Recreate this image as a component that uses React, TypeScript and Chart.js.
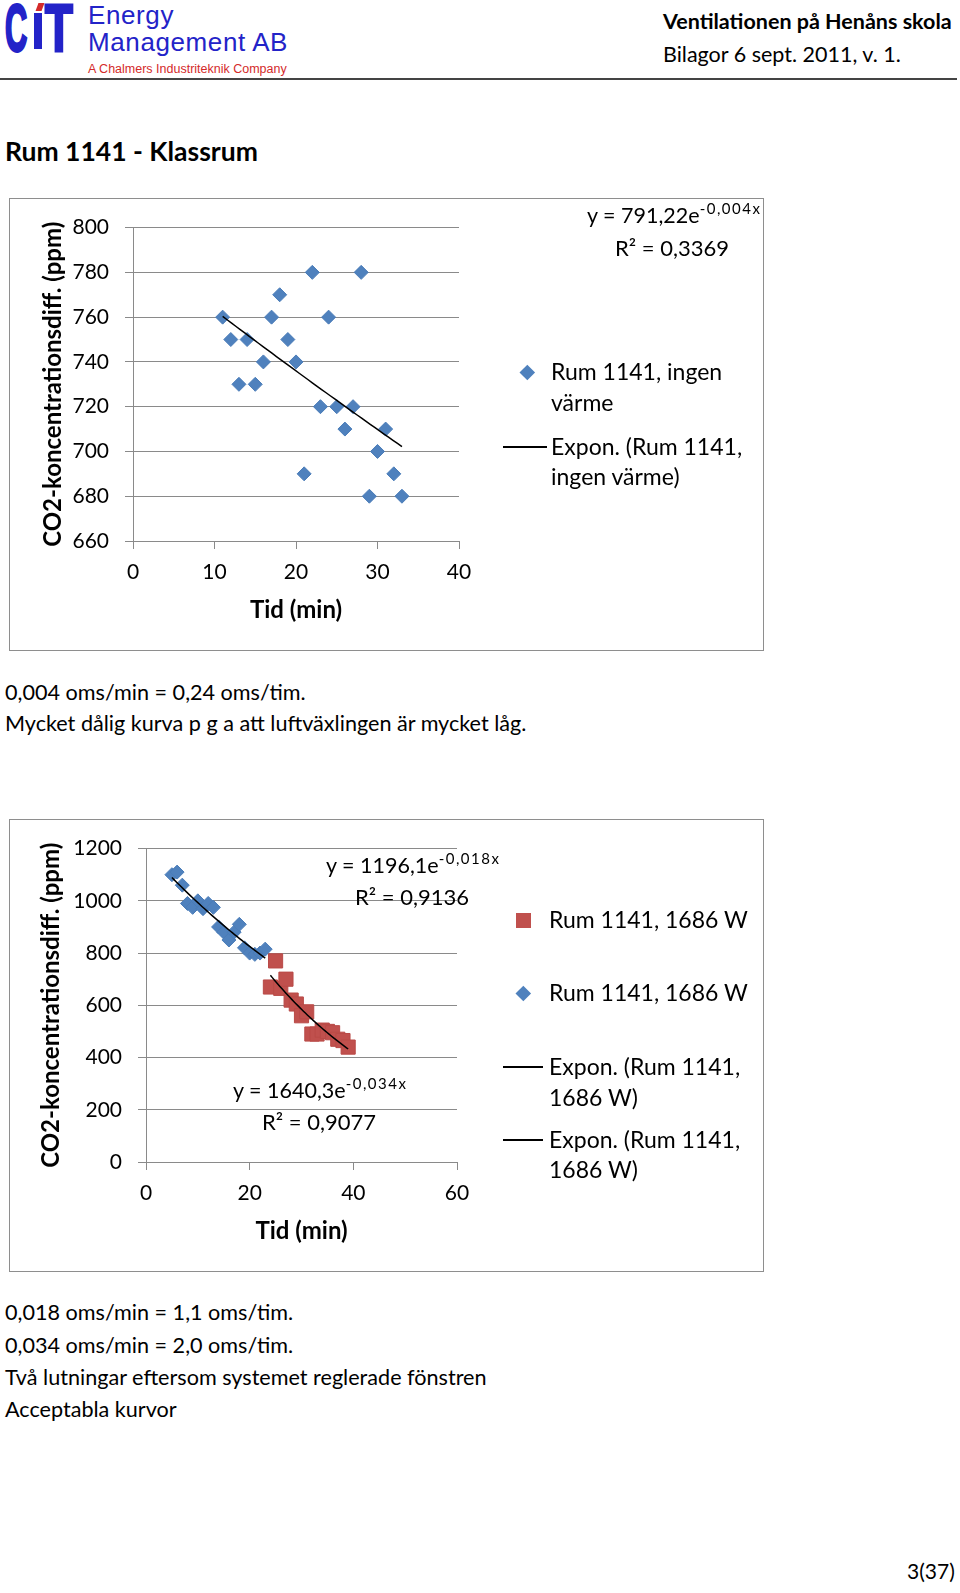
import React, { useEffect, useRef } from "react";
import { Chart, registerables } from "chart.js";

Chart.register(...registerables);

// ---------- Data ----------
// Chart 1: Rum 1141, ingen värme
const c1Minutes = [11, 12, 13, 14, 15, 16, 17, 18, 19, 20, 21, 22, 23, 24, 25, 26, 27, 28, 29, 30, 31, 32, 33];
const c1Co2 = [760, 750, 730, 750, 730, 740, 760, 770, 750, 740, 690, 780, 720, 760, 720, 710, 720, 780, 680, 700, 710, 690, 680];
const c1XTicks = [0, 10, 20, 30, 40];
const c1YTicks = [660, 680, 700, 720, 740, 760, 780, 800];

// Chart 2: Rum 1141, 1686 W (two periods)
const c2BlueMinutes = [5, 6, 7, 8, 9, 10, 11, 12, 13, 14, 15, 16, 17, 18, 19, 20, 21, 22, 23];
const c2BlueCo2 = [1100, 1110, 1060, 990, 975, 1000, 970, 990, 975, 900, 880, 850, 880, 910, 820, 800, 795, 800, 815];
const c2RedMinutes = [24, 25, 26, 27, 28, 29, 30, 31, 32, 33, 34, 35, 36, 37, 38, 39];
const c2RedCo2 = [670, 770, 665, 700, 620, 605, 560, 575, 490, 490, 505, 500, 495, 470, 465, 440];
const c2XTicks = [0, 20, 40, 60];
const c2YTicks = [0, 200, 400, 600, 800, 1000, 1200];

const BLUE = "#4F81BD";
const RED = "#C0504D";
const GRID = "#8a8a8a";
const FONT = "Lato, 'Open Sans', sans-serif";
const ARIAL = "'Liberation Sans', Arial, sans-serif";

// Exponential least-squares fit (like Excel's "Expon." trendline)
function expTrend(xs: number[], ys: number[]) {
  const n = xs.length;
  let sx = 0, sy = 0, sxx = 0, sxy = 0;
  for (let i = 0; i < n; i++) {
    const ly = Math.log(ys[i]);
    sx += xs[i]; sy += ly; sxx += xs[i] * xs[i]; sxy += xs[i] * ly;
  }
  const b = (n * sxy - sx * sy) / (n * sxx - sx * sx);
  const a = Math.exp((sy - b * sx) / n);
  const x0 = Math.min(...xs), x1 = Math.max(...xs);
  const pts: { x: number; y: number }[] = [];
  const steps = 40;
  for (let i = 0; i <= steps; i++) {
    const x = x0 + ((x1 - x0) * i) / steps;
    pts.push({ x, y: a * Math.exp(b * x) });
  }
  return pts;
}

const toPts = (xs: number[], ys: number[]) => xs.map((x, i) => ({ x, y: ys[i] }));

function makeScales(opts: {
  xTicks: number[]; yTicks: number[]; yWidth: number; xHeight: number; yTitlePad: number;
}) {
  const { xTicks, yTicks, yWidth, xHeight, yTitlePad } = opts;
  return {
    x: {
      type: "linear",
      min: xTicks[0],
      max: xTicks[xTicks.length - 1],
      afterBuildTicks: (s: any) => { s.ticks = xTicks.map((v) => ({ value: v })); },
      afterFit: (s: any) => { s.height = xHeight; },
      grid: { drawOnChartArea: false, drawTicks: true, tickLength: 8, color: GRID, lineWidth: 1 },
      border: { display: true, color: GRID, width: 1 },
      ticks: {
        font: { family: FONT, size: 21 }, color: "#000", padding: 11, maxRotation: 0, autoSkip: false,
        callback: (v: any) => String(v),
      },
      title: {
        display: true, text: "Tid (min)", color: "#000",
        font: { family: FONT, size: 24, weight: "bold" }, padding: { top: 0, bottom: 25 },
      },
    },
    y: {
      type: "linear",
      min: yTicks[0],
      max: yTicks[yTicks.length - 1],
      afterBuildTicks: (s: any) => { s.ticks = yTicks.map((v) => ({ value: v })); },
      afterFit: (s: any) => { s.width = yWidth; },
      grid: { drawOnChartArea: true, drawTicks: true, tickLength: 8, color: GRID, lineWidth: 1 },
      border: { display: true, color: GRID, width: 1 },
      ticks: {
        font: { family: FONT, size: 21 }, color: "#000", padding: 16, autoSkip: false,
        callback: (v: any) => String(v),
      },
      title: {
        display: true, text: "CO2-koncentrationsdiff. (ppm)", color: "#000",
        font: { family: FONT, size: 24, weight: "bold" }, padding: { top: yTitlePad, bottom: 0 },
      },
    },
  };
}

function ChartCanvas({ config, left, top, width, height }: any) {
  const ref = useRef<HTMLCanvasElement>(null);
  useEffect(() => {
    if (!ref.current) return;
    const chart = new Chart(ref.current, config);
    let alive = true;
    (document as any).fonts?.ready?.then(() => { if (alive) chart.update(); });
    return () => { alive = false; chart.destroy(); };
  }, []);
  return (
    <canvas
      ref={ref}
      width={width}
      height={height}
      style={{ position: "absolute", left, top, width, height }}
    />
  );
}

const chart1Config = {
  type: "scatter",
  data: {
    datasets: [
      {
        label: "Expon. (Rum 1141, ingen värme)",
        data: expTrend(c1Minutes, c1Co2),
        showLine: true, pointRadius: 0, borderColor: "#000", borderWidth: 1.5, order: 0,
      },
      {
        label: "Rum 1141, ingen värme",
        data: toPts(c1Minutes, c1Co2),
        pointStyle: "rectRot", pointRadius: 7, backgroundColor: BLUE, borderColor: "#4a7cb8", borderWidth: 1, order: 1,
      },
    ],
  },
  options: {
    animation: false, responsive: false, maintainAspectRatio: false,
    layout: { padding: { left: 0, top: 24, right: 304, bottom: 0 } },
    plugins: { legend: { display: false }, tooltip: { enabled: false } },
    scales: makeScales({ xTicks: c1XTicks, yTicks: c1YTicks, yWidth: 123, xHeight: 109, yTitlePad: 29 }),
  },
};

const chart2Config = {
  type: "scatter",
  data: {
    datasets: [
      {
        label: "Expon. (Rum 1141, 1686 W)",
        data: expTrend(c2RedMinutes, c2RedCo2),
        showLine: true, pointRadius: 0, borderColor: "#000", borderWidth: 1.5, order: 0,
      },
      {
        label: "Expon. (Rum 1141, 1686 W)",
        data: expTrend(c2BlueMinutes, c2BlueCo2),
        showLine: true, pointRadius: 0, borderColor: "#000", borderWidth: 1.5, order: 0,
      },
      {
        label: "Rum 1141, 1686 W",
        data: toPts(c2RedMinutes, c2RedCo2),
        pointStyle: "rect", pointRadius: 10, backgroundColor: RED, borderColor: "#b94a47", borderWidth: 1, order: 1,
      },
      {
        label: "Rum 1141, 1686 W",
        data: toPts(c2BlueMinutes, c2BlueCo2),
        pointStyle: "rectRot", pointRadius: 7, backgroundColor: BLUE, borderColor: "#4a7cb8", borderWidth: 1, order: 1,
      },
    ],
  },
  options: {
    animation: false, responsive: false, maintainAspectRatio: false,
    layout: { padding: { left: 0, top: 24, right: 306, bottom: 0 } },
    plugins: { legend: { display: false }, tooltip: { enabled: false } },
    scales: makeScales({ xTicks: c2XTicks, yTicks: c2YTicks, yWidth: 136, xHeight: 109, yTitlePad: 27 }),
  },
};

// ---------- Text helpers ----------
function T({ x, y, s, b, c, f, ls, children }: any) {
  return (
    <div
      style={{
        position: "absolute", left: x, top: y - 0.63 * s, fontSize: s, lineHeight: `${1.2 * s}px`,
        fontWeight: b ? 700 : 400, color: c || "#000", fontFamily: f || FONT, whiteSpace: "nowrap",
        letterSpacing: ls || 0,
      }}
    >
      {children}
    </div>
  );
}

function Eq({ x, y, main, sup }: any) {
  return (
    <T x={x} y={y} s={21.5}>
      {main}
      <span style={{ fontSize: 15, letterSpacing: 1.5, position: "relative", top: -9 }}>{sup}</span>
    </T>
  );
}

function Diamond({ cx, cy, r }: any) {
  const side = r * Math.SQRT2;
  return (
    <div
      style={{
        position: "absolute", left: cx - side / 2, top: cy - side / 2, width: side, height: side,
        background: BLUE, transform: "rotate(45deg)",
      }}
    />
  );
}

function Square({ cx, cy, side }: any) {
  return <div style={{ position: "absolute", left: cx - side / 2, top: cy - side / 2, width: side, height: side, background: RED }} />;
}

function HLine({ x1, x2, y }: any) {
  return <div style={{ position: "absolute", left: x1, top: y - 0.75, width: x2 - x1, height: 1.5, background: "#000" }} />;
}

function Box({ left, top, right, bottom }: any) {
  return (
    <div
      style={{
        position: "absolute", left, top, width: right - left, height: bottom - top,
        border: "1px solid #8e8e8e", boxSizing: "border-box",
      }}
    />
  );
}

export default function App() {
  const LOGO_BLUE = "#2323c8";
  const logoLetter = (scale: number): React.CSSProperties => ({
    position: "absolute", top: -12, fontFamily: ARIAL, fontWeight: 700, fontSize: 67, lineHeight: "80px",
    color: LOGO_BLUE, transform: `scaleX(${scale})`, transformOrigin: "left top",
    WebkitTextStroke: `3px ${LOGO_BLUE}`,
  });
  return (
    <div
      style={{
        position: "absolute", left: 0, top: 0, width: 960, height: 1593, background: "#fff",
        overflow: "hidden", fontFamily: FONT,
      }}
    >
      {/* Logo */}
      <div style={{ ...logoLetter(0.46), left: 5 }}>C</div>
      <div style={{ position: "absolute", left: 34, top: 13, width: 8, height: 36, background: LOGO_BLUE }} />
      <div style={{ position: "absolute", left: 37, top: 3, width: 6, height: 8, background: "#d42a2a", transform: "skewX(-20deg)" }} />
      <div style={{ ...logoLetter(0.68), left: 45 }}>T</div>
      <T x={88} y={16} s={26} f={ARIAL} c={LOGO_BLUE} ls={0.6}>Energy</T>
      <T x={88} y={43} s={26} f={ARIAL} c={LOGO_BLUE} ls={0.6}>Management AB</T>
      <T x={88} y={70} s={12.5} f={ARIAL} c="#d42a2a">A Chalmers Industriteknik Company</T>

      <T x={663} y={23} s={21.5} b>Ventilationen på Henåns skola</T>
      <T x={663} y={56} s={21.5}>Bilagor 6 sept. 2011, v. 1.</T>
      <div style={{ position: "absolute", left: 0, top: 78, width: 957, height: 2, background: "#444" }} />

      <T x={5} y={153} s={26.5} b>Rum 1141 - Klassrum</T>

      {/* Chart 1 */}
      <Box left={9} top={198} right={764} bottom={651} />
      <ChartCanvas config={chart1Config} left={10} top={199} width={753} height={451} />
      <Eq x={587} y={217} main="y = 791,22e" sup="-0,004x" />
      <T x={615} y={249} s={22}>R² = 0,3369</T>
      <Diamond cx={527} cy={372} r={7.5} />
      <T x={551} y={372} s={23}>Rum 1141, ingen</T>
      <T x={551} y={403} s={23}>värme</T>
      <HLine x1={503} x2={547} y={447} />
      <T x={551} y={447} s={23}>Expon. (Rum 1141,</T>
      <T x={551} y={477} s={23}>ingen värme)</T>

      <T x={5} y={694} s={21.6}>0,004 oms/min = 0,24 oms/tim.</T>
      <T x={5} y={725} s={21.6}>Mycket dålig kurva p g a att luftväxlingen är mycket låg.</T>

      {/* Chart 2 */}
      <Box left={9} top={819} right={764} bottom={1272} />
      <ChartCanvas config={chart2Config} left={10} top={820} width={753} height={451} />
      <Eq x={326} y={867} main="y = 1196,1e" sup="-0,018x" />
      <T x={355} y={898} s={22}>R² = 0,9136</T>
      <Eq x={233} y={1092} main="y = 1640,3e" sup="-0,034x" />
      <T x={262} y={1123} s={22}>R² = 0,9077</T>
      <Square cx={523} cy={920} side={15} />
      <T x={549} y={920} s={23}>Rum 1141, 1686 W</T>
      <Diamond cx={523} cy={993} r={7.5} />
      <T x={549} y={993} s={23}>Rum 1141, 1686 W</T>
      <HLine x1={503} x2={543} y={1067} />
      <T x={549} y={1067} s={23}>Expon. (Rum 1141,</T>
      <T x={549} y={1098} s={23}>1686 W)</T>
      <HLine x1={503} x2={543} y={1140} />
      <T x={549} y={1140} s={23}>Expon. (Rum 1141,</T>
      <T x={549} y={1170} s={23}>1686 W)</T>

      <T x={5} y={1314} s={21.6}>0,018 oms/min = 1,1 oms/tim.</T>
      <T x={5} y={1347} s={21.6}>0,034 oms/min = 2,0 oms/tim.</T>
      <T x={5} y={1379} s={21.6}>Två lutningar eftersom systemet reglerade fönstren</T>
      <T x={5} y={1411} s={21.6}>Acceptabla kurvor</T>

      <T x={907} y={1571} s={21}>3(37)</T>
    </div>
  );
}
